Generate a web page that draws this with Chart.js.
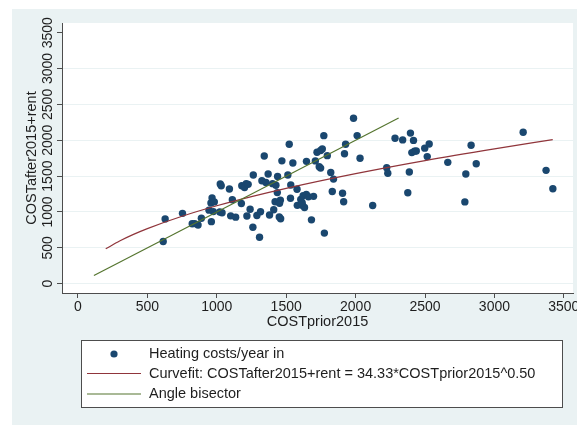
<!DOCTYPE html>
<html>
<head>
<meta charset="utf-8">
<script src="https://cdn.jsdelivr.net/npm/chart.js@4.4.1/dist/chart.umd.min.js"></script>
<style>
    html, body { margin: 0; padding: 0; background: #fff; overflow: hidden; }
    canvas { display: block; }
</style>
</head>
<body>
<canvas id="costChart" width="577" height="425" style="width:577px;height:425px"></canvas>
<script>
// Heating costs per year: before 2015 (x) vs after 2015 incl. rent (y)
const costPrior = [
    614, 628, 753, 823, 841, 865, 889, 944, 961, 966, 958, 982, 975, 1022, 1038,
    1025, 1032, 1091, 1112, 1100, 1136, 1180, 1212, 1200, 1226, 1177, 1217, 1240,
    1263, 1260, 1289, 1315, 1308, 1342, 1325, 1354, 1370, 1380, 1410, 1402, 1426,
    1438, 1436, 1420, 1458, 1452, 1450, 1460, 1469, 1512, 1522, 1548, 1533, 1531,
    1578, 1580, 1618, 1632, 1605, 1622, 1645, 1660, 1697, 1615, 1646, 1710, 1682,
    1722, 1748, 1760, 1738, 1748, 1771, 1796, 1775, 1821, 1841, 1832, 1906, 1914,
    1920, 1928, 1985, 2011, 2032, 2123, 2224, 2232, 2284, 2339, 2395, 2417, 2405,
    2424, 2437, 2387, 2376, 2498, 2530, 2516, 2664, 2787, 2794, 2832, 2869, 3207,
    3372, 3421
];
const costAfter = [
    588, 903, 981, 835, 838, 818, 912, 1025, 865, 1195, 1125, 1140, 1005, 1000, 990,
    1390, 1365, 1320, 1170, 946, 928, 1365, 1395, 1340, 1385, 1118, 944, 1037,
    1516, 786, 950, 1004, 647, 1781, 1436, 1412, 1530, 958, 1030, 1395, 1372,
    1495, 1270, 1143, 1165, 1120, 930, 905, 1713, 1516, 1944, 1683, 1376, 1191,
    1316, 1092, 1090, 1062, 1175, 1228, 1245, 1212, 1218, 1128, 1706, 1712, 890,
    1832, 1858, 1878, 1632, 1612, 2064, 1785, 705, 1552, 1458, 1285, 1262, 1143,
    1812, 1944, 2306, 2065, 1748, 1090, 1618, 1540, 2027, 2005, 2100, 1998, 1828,
    1848, 1850, 1558, 1268, 1890, 1948, 1772, 1692, 1140, 1530, 1930, 1673, 2112,
    1580, 1324
];

// fitted curve
const curveX = [200, 300, 400, 500, 750, 1000, 1250, 1500, 2000, 2500, 3000, 3420];
const curveY = [486, 595, 687, 768, 940, 1086, 1214, 1330, 1535, 1717, 1880, 2008];

// angle bisector end points
const bisectorX = [115, 2310];
const bisectorY = [115, 2310];

const xTicks = [0, 500, 1000, 1500, 2000, 2500, 3000, 3500];
const yTicks = [0, 500, 1000, 1500, 2000, 2500, 3000, 3500];

const legendLabels = [
    'Heating costs/year in',
    'Curvefit: COSTafter2015+rent = 34.33*COSTprior2015^0.50',
    'Angle bisector'
];

const navy = '#1a476f';
const maroon = '#90353b';
const green = '#55752f';
const regionBg = '#eaf2f3';
const axisGrey = '#4d4d4d';
const textColor = '#1e1e1e';
const fontFamily = '"Liberation Sans", Arial, sans-serif';

const toPoints = (xs, ys) => xs.map((x, i) => ({ x: x, y: ys[i] }));

// grey graph region + white plot region
const backgroundPlugin = {
    id: 'background',
    beforeDraw(chart) {
        const { ctx, chartArea } = chart;
        ctx.save();
        ctx.fillStyle = '#fff';
        ctx.fillRect(0, 0, chart.width, chart.height);
        ctx.fillStyle = regionBg;
        ctx.fillRect(12, 9, chart.width - 12, chart.height - 9);
        ctx.fillStyle = '#fff';
        ctx.fillRect(chartArea.left, chartArea.top,
            chartArea.right - chartArea.left, chartArea.bottom - chartArea.top);
        ctx.restore();
    }
};

// boxed legend below the plot, one entry per row
const boxLegendPlugin = {
    id: 'boxLegend',
    afterDraw(chart) {
        const ctx = chart.ctx;
        const sets = chart.data.datasets;
        ctx.save();
        ctx.fillStyle = '#fff';
        ctx.fillRect(81, 340, 482, 68);
        ctx.strokeStyle = axisGrey;
        ctx.lineWidth = 1;
        ctx.strokeRect(81.5, 340.5, 481, 67);

        const rows = [354, 373.5, 394];
        ctx.font = '14.5px ' + fontFamily;
        ctx.textBaseline = 'middle';
        legendLabels.forEach((label, i) => {
            const ds = sets[i];
            const y = rows[i];
            if (ds.type === 'scatter') {
                ctx.fillStyle = ds.backgroundColor;
                ctx.beginPath();
                ctx.arc(114, y, 3.6, 0, Math.PI * 2);
                ctx.fill();
            } else {
                ctx.strokeStyle = ds.borderColor;
                ctx.lineWidth = 1.2;
                ctx.beginPath();
                ctx.moveTo(87, y);
                ctx.lineTo(141, y);
                ctx.stroke();
            }
            ctx.fillStyle = textColor;
            ctx.fillText(label, 149, y);
        });
        ctx.restore();
    }
};

function initChart() {
    const ctx = document.getElementById('costChart').getContext('2d');
    return new Chart(ctx, {
        data: {
            datasets: [
                {
                    type: 'scatter',
                    label: legendLabels[0],
                    data: toPoints(costPrior, costAfter),
                    backgroundColor: navy,
                    borderWidth: 0,
                    pointRadius: 3.7,
                    order: 3
                },
                {
                    type: 'line',
                    label: legendLabels[1],
                    data: toPoints(curveX, curveY),
                    borderColor: maroon,
                    borderWidth: 1.2,
                    pointRadius: 0,
                    cubicInterpolationMode: 'monotone',
                    fill: false,
                    order: 1
                },
                {
                    type: 'line',
                    label: legendLabels[2],
                    data: toPoints(bisectorX, bisectorY),
                    borderColor: green,
                    borderWidth: 1.2,
                    pointRadius: 0,
                    fill: false,
                    order: 0
                }
            ]
        },
        options: {
            responsive: false,
            animation: false,
            devicePixelRatio: 1,
            layout: { padding: { left: 12, top: 23, right: 3, bottom: 92 } },
            plugins: {
                legend: { display: false },
                tooltip: { enabled: false }
            },
            scales: {
                x: {
                    type: 'linear',
                    position: 'bottom',
                    min: -115,
                    max: 3566,
                    afterBuildTicks: (scale) => { scale.ticks = xTicks.map(v => ({ value: v })); },
                    afterFit: (scale) => {
                        scale.height = 40;
                        scale.paddingLeft = 0;
                        scale.paddingRight = 0;
                    },
                    ticks: {
                        autoSkip: false,
                        maxRotation: 0,
                        minRotation: 0,
                        padding: 1,
                        color: textColor,
                        font: { family: fontFamily, size: 14 },
                        callback: (v) => String(v)
                    },
                    grid: {
                        drawOnChartArea: false,
                        tickLength: 5,
                        tickColor: axisGrey,
                        color: axisGrey
                    },
                    border: { display: true, color: axisGrey, width: 1 },
                    title: {
                        display: true,
                        text: 'COSTprior2015',
                        color: textColor,
                        font: { family: fontFamily, size: 14.5 },
                        padding: { top: 0, bottom: 2 }
                    }
                },
                y: {
                    type: 'linear',
                    min: -130,
                    max: 3635,
                    afterBuildTicks: (scale) => { scale.ticks = yTicks.map(v => ({ value: v })); },
                    afterFit: (scale) => {
                        scale.width = 50;
                        scale.paddingTop = 0;
                        scale.paddingBottom = 0;
                    },
                    ticks: {
                        autoSkip: false,
                        minRotation: 90,
                        maxRotation: 90,
                        crossAlign: 'center',
                        padding: -7,
                        color: textColor,
                        font: { family: fontFamily, size: 14 },
                        callback: (v) => String(v)
                    },
                    grid: {
                        tickLength: 5,
                        tickColor: axisGrey,
                        lineWidth: 1,
                        color: (c) => (c.tick && c.tick.value === 3500) ? 'rgba(0,0,0,0)' : regionBg
                    },
                    border: { display: true, color: axisGrey, width: 1 },
                    title: {
                        display: true,
                        text: 'COSTafter2015+rent',
                        color: textColor,
                        font: { family: fontFamily, size: 14.5 },
                        padding: { top: 11, bottom: 0 }
                    }
                }
            }
        },
        plugins: [backgroundPlugin, boxLegendPlugin]
    });
}

initChart();
</script>
</body>
</html>
